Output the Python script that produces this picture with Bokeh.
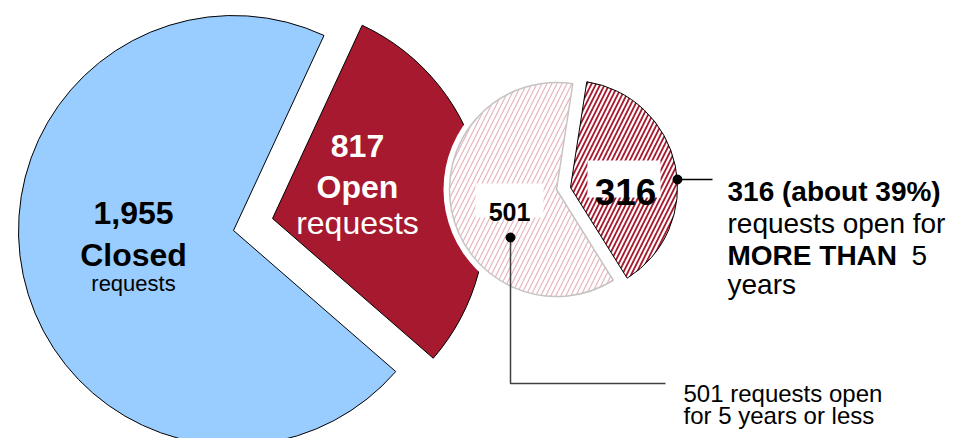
import math
from bokeh.plotting import figure
from bokeh.models import Range1d
from bokeh.core.properties import value
from bokeh.embed import file_html
from bokeh.resources import INLINE

# ---- data ----
main_categories = ["Closed", "Open"]
main_values = [1955, 817]
open_categories = ["Open 5 years or less", "Open more than 5 years"]
open_values = [501, 316]
share_more_than_5 = round(100 * open_values[1] / sum(open_values))  # about 39%

# ---- colours ----
BLUE = "#99ccff"
RED = "#a6192e"
PINK = "#e8b4bc"
FONT = value("Liberation Sans")

PAGE_W, PAGE_H = 969, 438


def Y(py):
    # convert a page-pixel y (from top) to data y (upwards)
    return PAGE_H - py


p = figure(width=PAGE_W, height=PAGE_H,
           x_range=Range1d(0, PAGE_W), y_range=Range1d(0, PAGE_H),
           output_backend="svg", toolbar_location=None, min_border=0,
           x_axis_location=None, y_axis_location=None)
p.grid.visible = False
p.outline_line_color = None
p.background_fill_color = "white"

# ---- main pie ----
total = sum(main_values)
open_span = 360.0 * main_values[1] / total
open_start = -41.0
open_end = open_start + open_span
c1 = (233, Y(230))
r1 = 215
c1_open = (272, Y(218))  # exploded slice

p.wedge(x=[c1[0]], y=[c1[1]], radius=r1,
        start_angle=math.radians(open_end),
        end_angle=math.radians(open_start + 360),
        fill_color=BLUE, line_color="black", line_width=1)
p.wedge(x=[c1_open[0]], y=[c1_open[1]], radius=r1 - 2,
        start_angle=math.radians(open_start),
        end_angle=math.radians(open_end),
        fill_color=RED, line_color="black", line_width=1)

# ---- breakdown pie of open requests ----
open_total = sum(open_values)
more_span = 360.0 * open_values[1] / open_total
more_start = -58.0
more_end = more_start + more_span
c2 = (556, Y(189))
r2 = 107
c2_more = (570, Y(187))

p.circle(x=[c2[0]], y=[c2[1]], radius=r2 + 6, fill_color="white", line_color=None)
p.wedge(x=[c2[0]], y=[c2[1]], radius=r2,
        start_angle=math.radians(more_end),
        end_angle=math.radians(more_start + 360),
        fill_color="white", hatch_pattern="/", hatch_color=PINK,
        hatch_scale=10, hatch_weight=1.2,
        line_color="#c4c4c4", line_width=1.5)
p.wedge(x=[c2_more[0]], y=[c2_more[1]], radius=r2,
        start_angle=math.radians(more_start),
        end_angle=math.radians(more_end),
        fill_color="white", hatch_pattern="/", hatch_color=RED,
        hatch_scale=9, hatch_weight=1.8,
        line_color="black", line_width=1)

# ---- white boxes behind small-pie numbers ----
p.quad(left=[475, 587], right=[543, 660], top=[Y(183), Y(160)], bottom=[Y(217), Y(197)],
       fill_color="white", line_color=None)

# ---- leader lines ----
p.line(x=[677, 712], y=[Y(179), Y(179)], line_color="black", line_width=1.5)
p.scatter(x=[677], y=[Y(179)], size=9, fill_color="black", line_color="black")
p.line(x=[510, 510, 665], y=[Y(237), Y(383), Y(383)], line_color="#404040", line_width=1.5)
p.scatter(x=[510], y=[Y(237)], size=9, fill_color="black", line_color="black")


def txt(x, py, s, size, bold=False, color="black", align="center"):
    p.text(x=[x], y=[Y(py)], text=[s], text_font=FONT,
           text_font_size=f"{size}px",
           text_font_style="bold" if bold else "normal",
           text_color=color, text_align=align, text_baseline="alphabetic")


# closed labels
txt(133, 212, f"{main_values[0]:,}", 32, bold=True)
txt(133, 254, main_categories[0], 32, bold=True)
txt(133, 283, "requests", 22)

# open labels
txt(357, 145, f"{main_values[1]:,}", 32, bold=True, color="white")
txt(357, 186, main_categories[1], 32, bold=True, color="white")
txt(357, 222, "requests", 32, color="white")

# small pie numbers
txt(509, 211, f"{open_values[0]}", 25, bold=True)
txt(625, 191, f"{open_values[1]}", 37, bold=True)

# right annotation
txt(727, 191, f"{open_values[1]} (about {share_more_than_5}%)", 28, bold=True, align="left")
txt(727, 223, "requests open for", 28, align="left")
txt(727, 255, "MORE THAN", 28, bold=True, align="left")
txt(911, 255, "5", 28, align="left")
txt(727, 284, "years", 28, align="left")

# bottom annotation
txt(683, 393, f"{open_values[0]} requests open", 24, align="left")
txt(683, 415, "for 5 years or less", 24, align="left")

open("out.html", "w").write(file_html(p, INLINE))
